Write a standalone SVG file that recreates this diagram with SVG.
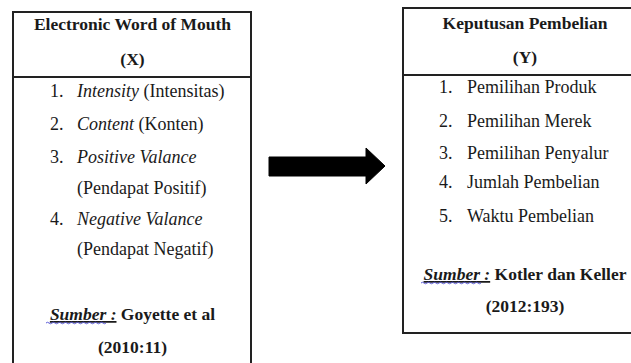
<svg xmlns="http://www.w3.org/2000/svg" width="631" height="363" viewBox="0 0 631 363">
<style>
text{font-family:"Liberation Serif","Times New Roman",serif;font-size:18px;fill:#1a1a1a}
.h{font-weight:bold;text-anchor:middle;font-size:17.5px}
.box{fill:#fff;stroke:#222;stroke-width:2}
.div{stroke:#222;stroke-width:2}
.sp{fill:none;stroke:#5a5ad8;stroke-width:1}
</style>
<rect width="631" height="363" fill="#fff"/>
<g id="node-x">
<rect class="box" x="13" y="12" width="238" height="360"/>
<line class="div" x1="13" y1="77" x2="251" y2="77"/>
<text class="h" x="132.5" y="30">Electronic Word of Mouth</text>
<text class="h" x="132.5" y="65">(X)</text>
<text x="50" y="97">1.</text><text x="77" y="97"><tspan font-style="italic">Intensity</tspan> (Intensitas)</text>
<text x="50" y="130">2.</text><text x="77" y="130"><tspan font-style="italic">Content</tspan> (Konten)</text>
<text x="50" y="163">3.</text><text x="77" y="163" font-style="italic">Positive Valance</text>
<text x="77" y="194">(Pendapat Positif)</text>
<text x="50" y="225">4.</text><text x="77" y="225" font-style="italic">Negative Valance</text>
<text x="77" y="255">(Pendapat Negatif)</text>
<text class="h" x="132.5" y="320"><tspan font-style="italic" text-decoration="underline">Sumber :</tspan> Goyette et al</text>
<path class="sp" d="M46 323 q1.5 -1.5 3 0 t3 0 t3 0 t3 0 t3 0 t3 0 t3 0 t3 0 t3 0 t3 0 t3 0 t3 0 t3 0 t3 0 t3 0 t3 0 t3 0 t3 0 t3 0 t3 0"/>
<text class="h" x="132.5" y="353">(2010:11)</text>
</g>
<g id="connectors">
<path d="M269 157 H366 V148 L385 166 L366 184 V176 H269 Z" fill="#000" stroke="#000" stroke-width="1" stroke-linejoin="round"/>
</g>
<g id="node-y">
<rect class="box" x="403" y="8" width="240" height="325"/>
<line class="div" x1="403" y1="75" x2="643" y2="75"/>
<text class="h" x="525" y="29">Keputusan Pembelian</text>
<text class="h" x="525" y="63">(Y)</text>
<text x="439" y="93">1.</text><text x="467" y="93">Pemilihan Produk</text>
<text x="439" y="127">2.</text><text x="467" y="127">Pemilihan Merek</text>
<text x="439" y="159">3.</text><text x="467" y="159">Pemilihan Penyalur</text>
<text x="439" y="188">4.</text><text x="467" y="188">Jumlah Pembelian</text>
<text x="439" y="222">5.</text><text x="467" y="222">Waktu Pembelian</text>
<text class="h" x="525" y="280"><tspan font-style="italic" text-decoration="underline">Sumber :</tspan> Kotler dan Keller</text>
<path class="sp" d="M421 283 q1.5 -1.5 3 0 t3 0 t3 0 t3 0 t3 0 t3 0 t3 0 t3 0 t3 0 t3 0 t3 0 t3 0 t3 0 t3 0 t3 0 t3 0 t3 0 t3 0 t3 0 t3 0"/>
<text class="h" x="525" y="312">(2012:193)</text>
</g>
</svg>
